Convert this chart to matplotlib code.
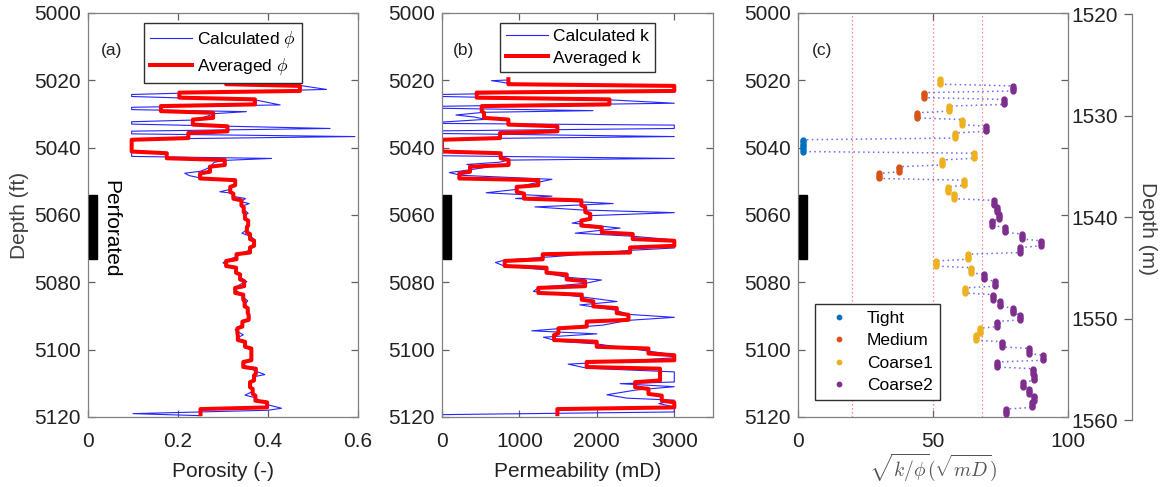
import numpy as np
import matplotlib
matplotlib.use('Agg')
import matplotlib.pyplot as plt
import matplotlib.transforms as mtransforms
from matplotlib.patches import Rectangle

plt.rcParams['font.family'] = ['Liberation Sans', 'DejaVu Sans']
plt.rcParams['mathtext.fontset'] = 'cm'

# averaged values per 2 ft layer, top to bottom
phi_avg = [0.307, 0.471, 0.203, 0.371, 0.162, 0.278, 0.233, 0.310, 0.223, 0.097,
           0.097, 0.175, 0.304, 0.271, 0.249, 0.327, 0.316, 0.323, 0.341, 0.346,
           0.349, 0.356, 0.353, 0.360, 0.369, 0.360, 0.330, 0.307, 0.329, 0.338,
           0.347, 0.327, 0.345, 0.348, 0.355, 0.357, 0.343, 0.332, 0.333, 0.349,
           0.363, 0.363, 0.345, 0.373, 0.369, 0.360, 0.366, 0.372, 0.398, 0.250]
k_avg = [857, 3000, 448, 2162, 513, 543, 857, 1490, 749, 0.3,
         0.3, 758, 860, 362, 224, 1244, 965, 1060, 1800, 1850,
         1915, 1800, 2063, 2463, 3000, 2429, 1301, 810, 1350, 1611,
         1848, 1244, 1805, 1955, 2257, 2408, 1869, 1503, 1447, 1998,
         2666, 3000, 1869, 2816, 2816, 2494, 2666, 2838, 3000, 1490]
sqrt_k_phi = [52.7, 79.7, 46.8, 76.3, 55.9, 44.0, 60.7, 69.6, 58.0, 1.7,
              1.7, 65.1, 53.5, 37.3, 30.1, 61.5, 55.6, 57.7, 72.5, 73.6,
              74.3, 72.0, 76.5, 83.1, 90.1, 82.3, 62.8, 51.1, 64.0, 69.0,
              73.0, 61.7, 72.3, 74.9, 79.7, 82.1, 73.8, 67.3, 65.9, 75.7,
              85.7, 90.9, 73.6, 86.9, 87.4, 83.2, 85.4, 87.4, 86.8, 77.2]
rock_class = ['Coarse1', 'Coarse2', 'Medium', 'Coarse2', 'Coarse1', 'Medium', 'Coarse1', 'Coarse2', 'Coarse1', 'Tight',
              'Tight', 'Coarse1', 'Coarse1', 'Medium', 'Medium', 'Coarse1', 'Coarse1', 'Coarse1', 'Coarse2', 'Coarse2',
              'Coarse2', 'Coarse2', 'Coarse2', 'Coarse2', 'Coarse2', 'Coarse2', 'Coarse1', 'Coarse1', 'Coarse1', 'Coarse2',
              'Coarse2', 'Coarse1', 'Coarse2', 'Coarse2', 'Coarse2', 'Coarse2', 'Coarse2', 'Coarse1', 'Coarse1', 'Coarse2',
              'Coarse2', 'Coarse2', 'Coarse2', 'Coarse2', 'Coarse2', 'Coarse2', 'Coarse2', 'Coarse2', 'Coarse2', 'Coarse2']

# calculated (log) curves, read as vertices
calc_phi_depth = [5019.9, 5020.3, 5020.8, 5021.5, 5022.7, 5024.2, 5024.8, 5025.9, 5027.3, 5028.0,
                  5028.7, 5029.3, 5029.9, 5030.8, 5031.8, 5032.3, 5033.0, 5034.3, 5035.1, 5035.9,
                  5036.7, 5037.5, 5042.6, 5043.2, 5043.8, 5044.4, 5045.2, 5046.2, 5047.0, 5047.6,
                  5048.3, 5049.0, 5049.6, 5050.5, 5051.5, 5052.4, 5053.1, 5053.6, 5054.4, 5055.1,
                  5056.0, 5056.6, 5057.5, 5058.3, 5059.5, 5060.3, 5061.0, 5062.4, 5063.5, 5064.4,
                  5065.4, 5066.4, 5067.5, 5068.5, 5069.5, 5070.4, 5071.4, 5072.4, 5073.3, 5074.2,
                  5075.0, 5076.0, 5077.3, 5078.5, 5079.8, 5080.5, 5081.4, 5082.5, 5083.5, 5084.4,
                  5085.5, 5086.4, 5087.5, 5088.5, 5089.5, 5090.4, 5091.5, 5092.4, 5093.3, 5094.1,
                  5094.8, 5095.6, 5096.4, 5097.5, 5098.4, 5099.5, 5100.4, 5101.5, 5102.4, 5103.4,
                  5104.4, 5105.4, 5106.4, 5107.4, 5108.0, 5109.0, 5110.4, 5111.3, 5112.4, 5113.5,
                  5114.3, 5115.4, 5116.3, 5117.4, 5118.0, 5119.0, 5119.6]
calc_phi = [0.308, 0.300, 0.310, 0.470, 0.530, 0.097, 0.097, 0.375, 0.427, 0.097,
            0.097, 0.352, 0.280, 0.262, 0.234, 0.097, 0.097, 0.538, 0.097, 0.097,
            0.593, 0.097, 0.097, 0.408, 0.300, 0.280, 0.275, 0.265, 0.250, 0.215,
            0.225, 0.250, 0.320, 0.330, 0.322, 0.316, 0.293, 0.325, 0.320, 0.350,
            0.340, 0.358, 0.340, 0.346, 0.356, 0.345, 0.352, 0.356, 0.350, 0.353,
            0.342, 0.362, 0.372, 0.368, 0.366, 0.360, 0.340, 0.330, 0.310, 0.300,
            0.310, 0.329, 0.332, 0.338, 0.353, 0.340, 0.328, 0.330, 0.340, 0.345,
            0.355, 0.350, 0.353, 0.358, 0.355, 0.360, 0.350, 0.343, 0.335, 0.327,
            0.335, 0.345, 0.333, 0.340, 0.349, 0.355, 0.363, 0.362, 0.363, 0.355,
            0.345, 0.360, 0.373, 0.393, 0.370, 0.368, 0.360, 0.362, 0.366, 0.349,
            0.372, 0.385, 0.398, 0.430, 0.400, 0.100, 0.250]

calc_k_depth = [5019.9, 5020.1, 5020.5, 5020.9, 5021.6, 5023.0, 5024.2, 5024.8, 5025.8, 5026.8,
                5027.7, 5028.3, 5029.0, 5029.5, 5030.3, 5030.9, 5031.6, 5032.4, 5032.8, 5033.3,
                5034.3, 5035.0, 5035.8, 5036.7, 5037.4, 5042.4, 5043.2, 5043.7, 5044.3, 5045.0,
                5045.8, 5046.6, 5047.4, 5048.2, 5049.4, 5050.3, 5051.5, 5052.4, 5053.4, 5054.4,
                5055.1, 5056.6, 5057.6, 5058.5, 5059.3, 5060.2, 5061.3, 5062.4, 5063.9, 5065.4,
                5066.3, 5067.4, 5069.8, 5070.5, 5071.5, 5072.3, 5073.4, 5074.1, 5075.2, 5076.3,
                5077.5, 5078.5, 5079.3, 5080.3, 5081.5, 5082.7, 5084.3, 5085.7, 5086.7, 5088.3,
                5089.5, 5090.4, 5091.3, 5092.7, 5094.4, 5095.3, 5096.3, 5097.5, 5098.3, 5100.4,
                5101.5, 5102.4, 5103.5, 5104.3, 5105.5, 5106.6, 5109.6, 5110.1, 5111.0, 5112.0,
                5113.4, 5114.4, 5115.0, 5116.0, 5117.0, 5118.5, 5119.3]
calc_k = [857, 640, 760, 857, 3000, 3000, 0, 0, 2170, 3000,
          0, 0, 1950, 540, 180, 420, 560, 0, 0, 3000,
          3000, 0, 0, 3000, 0, 0, 3000, 850, 750, 320,
          580, 350, 95, 240, 1420, 1240, 1000, 960, 570, 1420,
          950, 2210, 1200, 1800, 3000, 1900, 1900, 1680, 2300, 1720,
          2460, 3000, 3000, 2430, 1900, 1480, 810, 690, 810, 1350,
          1400, 1610, 2060, 1850, 1250, 1180, 1800, 2260, 1780, 2250,
          2400, 3000, 2400, 2080, 1160, 2000, 1310, 1500, 2000, 2660,
          3000, 3000, 2300, 1630, 1870, 3000, 3000, 2300, 3000, 2500,
          2130, 2390, 3000, 2800, 3000, 3000, 0]

perf_top, perf_bottom = 5054, 5073
class_cuts = [20, 50, 68]
class_names = ['Tight', 'Medium', 'Coarse1', 'Coarse2']
class_colors = {'Tight': '#0072BD', 'Medium': '#D95319', 'Coarse1': '#EDB120', 'Coarse2': '#7E2F8E'}

# samples every 0.5 ft, four per layer
layer_depth0 = 5020.4
layer_step = 2.0
offsets = np.array([-0.75, -0.25, 0.25, 0.75])
centers = layer_depth0 + layer_step * np.arange(len(phi_avg))
depth_s = (centers[:, None] + offsets[None, :]).ravel()
phi_s = np.repeat(phi_avg, len(offsets))
k_s = np.repeat(k_avg, len(offsets))
v_s = np.repeat(sqrt_k_phi, len(offsets))
cls_s = np.repeat(rock_class, len(offsets))

W, H = 1164, 487
fig = plt.figure(figsize=(W / 100, H / 100), dpi=100)


def box(x0, x1, y0, y1):
    return [x0 / W, 1 - y1 / H, (x1 - x0) / W, (y1 - y0) / H]


ax_a = fig.add_axes(box(88, 358, 13, 417))
ax_b = fig.add_axes(box(442, 713, 13, 417))
ax_c = fig.add_axes(box(798, 1068, 13, 417))

TXT = '#222222'
for ax in (ax_a, ax_b, ax_c):
    for s in ax.spines.values():
        s.set_color('#808080')
        s.set_linewidth(0.9)
    ax.tick_params(direction='in', top=True, right=True, length=5, width=0.9, color='#606060',
                   labelsize=15, labelcolor=TXT)
    ax.tick_params(axis='x', pad=10.5)
    ax.tick_params(axis='y', pad=5)
    ax.set_ylim(5120, 5000)
    ax.set_yticks(range(5000, 5121, 20))
    trans = mtransforms.blended_transform_factory(ax.transAxes, ax.transData)
    ax.add_patch(Rectangle((0.003, perf_top), 0.03, perf_bottom - perf_top, transform=trans,
                           color='black', zorder=5, clip_on=False))

leg_kw = dict(loc='upper center', bbox_to_anchor=(0.5, 0.975), borderaxespad=0, fontsize=12.5,
              fancybox=False, edgecolor='#303030', framealpha=1, handlelength=2.4,
              handletextpad=0.3, labelspacing=0.35, borderpad=0.35)

# (a) porosity
ax_a.plot(calc_phi, calc_phi_depth, color='#2525ff', lw=0.8, label=r'Calculated $\phi$')
ax_a.plot(phi_s, depth_s, color='red', lw=2.9, label=r'Averaged $\phi$')
ax_a.set_xlim(0, 0.6)
ax_a.set_xticks([0, 0.2, 0.4, 0.6])
ax_a.set_xticklabels(['0', '0.2', '0.4', '0.6'])
ax_a.set_xlabel('Porosity (-)', fontsize=15, color=TXT, labelpad=8)
ax_a.set_ylabel('Depth (ft)', fontsize=15, color='#404040', labelpad=4)
ax_a.legend(**leg_kw)
ax_a.text(0.048, 0.908, '(a)', transform=ax_a.transAxes, fontsize=12.5, color=TXT, va='center')
trans_a = mtransforms.blended_transform_factory(ax_a.transAxes, ax_a.transData)
ax_a.text(0.083, 5064, 'Perforated', transform=trans_a, rotation=270, ha='center', va='center',
          fontsize=15, color='black')

# (b) permeability
ax_b.plot(calc_k, calc_k_depth, color='#2525ff', lw=0.8, label='Calculated k')
ax_b.plot(k_s, depth_s, color='red', lw=2.9, label='Averaged k')
ax_b.set_xlim(0, 3500)
ax_b.set_xticks([0, 1000, 2000, 3000])
ax_b.set_xlabel('Permeability (mD)', fontsize=15, color=TXT, labelpad=8)
ax_b.legend(**leg_kw)
ax_b.text(0.041, 0.908, '(b)', transform=ax_b.transAxes, fontsize=12.5, color=TXT, va='center')

# (c) sqrt(k/phi)
for c in class_cuts:
    ax_c.axvline(c, color='#ff4040', ls=(0, (1, 2.2)), lw=0.9, alpha=0.8, zorder=1)
ax_c.plot(v_s, depth_s, color='#5050ff', ls=(0, (1, 2.2)), lw=1.1, alpha=0.85, zorder=2)
for name in class_names:
    m = cls_s == name
    ax_c.plot(v_s[m], depth_s[m], '.', ls='none', ms=7, color=class_colors[name], label=name, zorder=3)
ax_c.set_xlim(0, 100)
ax_c.set_xticks([0, 50, 100])
ax_c.set_xlabel(r'$\sqrt{k/\phi}(\sqrt{mD})$', fontsize=14, color='#555555', labelpad=1)
ax_c.legend(loc='lower left', bbox_to_anchor=(0.063, 0.042), borderaxespad=0, fontsize=12.5,
            fancybox=False, edgecolor='#303030', framealpha=1, handlelength=2.0, handletextpad=0.6,
            labelspacing=0.42, borderpad=0.4, markerscale=0.9)
ax_c.text(0.05, 0.908, '(c)', transform=ax_c.transAxes, fontsize=12.5, color=TXT, va='center')

# separate metric depth axis
ax_m = fig.add_axes(box(1131.7, 1131.8, 14.3, 420))
ax_m.patch.set_visible(False)
for side in ('top', 'right', 'bottom'):
    ax_m.spines[side].set_visible(False)
ax_m.spines['left'].set_color('#808080')
ax_m.spines['left'].set_linewidth(0.9)
ax_m.set_xticks([])
ax_m.set_ylim(1560, 1520)
ax_m.set_yticks(range(1520, 1561, 10))
ax_m.tick_params(axis='y', direction='out', length=6, width=0.9, color='#606060',
                 labelsize=15, labelcolor=TXT, pad=4)
fig.text(1148 / W, 1 - 228 / H, 'Depth (m)', rotation=270, ha='center', va='center',
         fontsize=15, color='#404040')

fig.savefig('out.png', dpi=100)
